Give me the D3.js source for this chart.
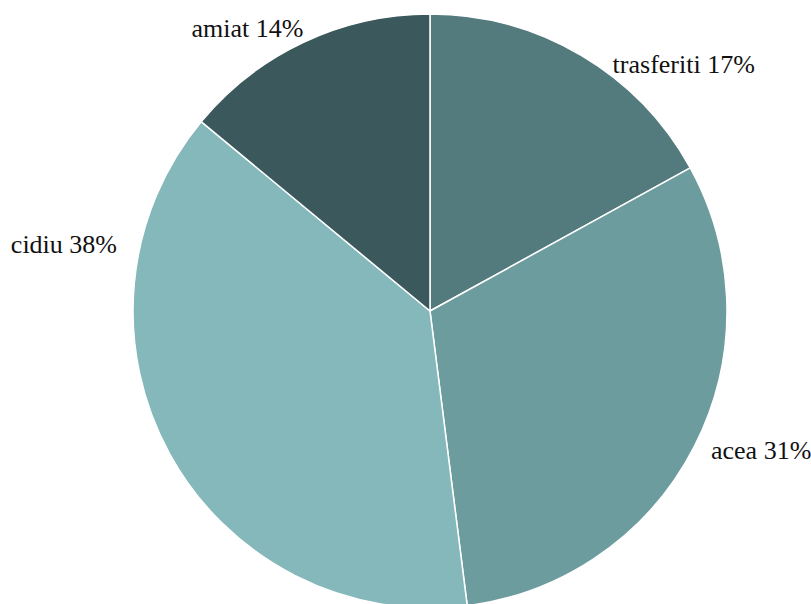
<!DOCTYPE html>
<html>
<head>
<meta charset="utf-8">
<script src="https://cdn.jsdelivr.net/npm/d3@7"></script>
<style>
  html, body { margin: 0; padding: 0; background: #ffffff; overflow: hidden; }
  svg { display: block; }
</style>
</head>
<body>
<svg id="chart" width="811" height="604"></svg>
<script>
// Slice categories and their shares (percent)
const categories = ["trasferiti", "acea", "cidiu", "amiat"];
const shares = [17, 31, 38, 14];
const sliceColors = ["#537b7e", "#6d9c9f", "#85b8bb", "#3b585c"];

const width = 811, height = 604;
const cx = 430, cy = 311, radius = 297;
const labelFont = "'Liberation Serif', 'Times New Roman', Times, serif";

// Label placement: angle (degrees, clockwise from top) and distance from the centre
const labelPlacement = {
  trasferiti: { angle: 36.5, dist: 307 },
  acea:       { angle: 116.5, dist: 314 },
  cidiu:      { angle: 282,  dist: 320 },
  amiat:      { angle: 335.8, dist: 309 }
};

const svg = d3.select("#chart");
const g = svg.append("g").attr("transform", `translate(${cx},${cy})`);

const data = categories.map((c, i) => ({ name: c, value: shares[i], color: sliceColors[i] }));

const pie = d3.pie().value(d => d.value).sort(null);
const arc = d3.arc().innerRadius(0).outerRadius(radius);

const arcs = pie(data);

g.selectAll("path.slice")
  .data(arcs)
  .join("path")
  .attr("class", "slice")
  .attr("d", arc)
  .attr("fill", d => d.data.color)
  .attr("stroke", "#ffffff")
  .attr("stroke-width", 1.5)
  .attr("stroke-linejoin", "round");

g.selectAll("text.label")
  .data(arcs)
  .join("text")
  .attr("class", "label")
  .each(function (d) {
    const p = labelPlacement[d.data.name];
    const a = p.angle * Math.PI / 180;
    const x = p.dist * Math.sin(a);
    const y = -p.dist * Math.cos(a);
    d3.select(this)
      .attr("x", x)
      .attr("y", y)
      .attr("dy", "0.32em")
      .attr("text-anchor", x >= 0 ? "start" : "end");
  })
  .attr("font-size", 26)
  .attr("fill", "#111111")
  .style("font-family", labelFont)
  .text(d => `${d.data.name} ${d.data.value}%`);
</script>
</body>
</html>
